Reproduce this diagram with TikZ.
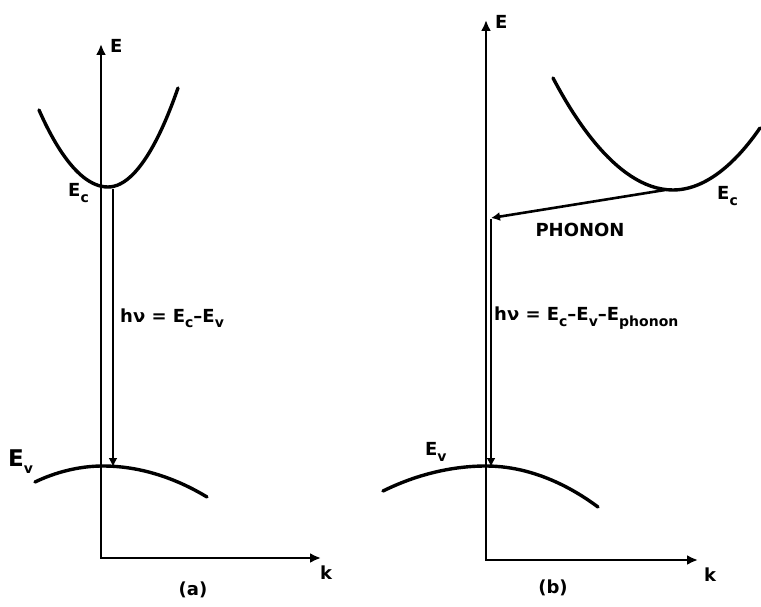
\documentclass[tikz,border=0pt]{standalone}
\usepackage{fontspec}
\setmainfont{DejaVu Sans}
\usetikzlibrary{arrows.meta}

\newcommand{\lowsub}[1]{\raisebox{-0.55ex}{\fontsize{14}{14}\selectfont #1}}

\begin{document}
\begin{tikzpicture}[x=1pt, y=-1pt,
  band/.style={line width=3.4pt, line cap=round},
  axis/.style={line width=2.4pt, {Latex[length=11pt,width=10pt]}-{Latex[length=11pt,width=10pt]}},
  trans/.style={line width=1.9pt, -{Latex[length=9pt,width=9pt]}},
  lbl/.style={font=\bfseries\fontsize{18}{18}\selectfont, inner sep=0pt}]
\useasboundingbox (0,0) rectangle (761,607);

% (a) direct gap
\coordinate (EtopA) at (101,44);
\coordinate (OA) at (101,558);
\coordinate (KendA) at (321,558);
\draw[axis] (EtopA) -- (OA) -- (KendA);
\node[lbl, anchor=west] (EA) at (110,46) {E};
\node[lbl] (kA) at (326,573) {k};
\node[lbl] (capA) at (193,590) {(a)};

\draw[band] (39,110) parabola bend (108,187) (178,88);
\draw[band] (35,482) parabola bend (103,466) (207,497);
\node[lbl, anchor=east] (EcA) at (89,193) {E\lowsub{c}};
\node[lbl, anchor=west, font=\bfseries\fontsize{23}{23}\selectfont] (EvA) at (8,462) {E\lowsub{v}};

\coordinate (topA) at (113,189);
\coordinate (botA) at (113,467);
\draw[trans] (topA) -- (botA);
\node[lbl, anchor=west] (hvA) at (120,318) {hν = E\lowsub{c}–E\lowsub{v}};

% (b) indirect gap
\coordinate (EtopB) at (486,20);
\coordinate (OB) at (486,560);
\coordinate (KendB) at (698,560);
\draw[axis] (EtopB) -- (OB) -- (KendB);
\node[lbl, anchor=west] (EB) at (495,22) {E};
\node[lbl] (kB) at (710,575) {k};
\node[lbl] (capB) at (553,588) {(b)};

\draw[band] (553,78) parabola bend (673,190) (760,128);
\draw[band] (383,491) parabola bend (486,466) (598,507);
\node[lbl, anchor=west] (EcB) at (717,196) {E\lowsub{c}};
\node[lbl, anchor=west] (EvB) at (425,452) {E\lowsub{v}};

\coordinate (minB) at (665,190);
\coordinate (kinkB) at (491,218);
\coordinate (botB) at (491,467);
\draw[trans, line width=2.6pt] (minB) -- (kinkB);
\draw[trans] ([yshift=-1pt]kinkB) -- (botB);
\node[lbl, font=\bfseries\fontsize{18}{18}\selectfont] (phonon) at (580,230) {PHONON};
\node[lbl, anchor=west] (hvB) at (494,318) {hν = E\lowsub{c}–E\lowsub{v}–E\lowsub{phonon}};
\end{tikzpicture}
\end{document}
